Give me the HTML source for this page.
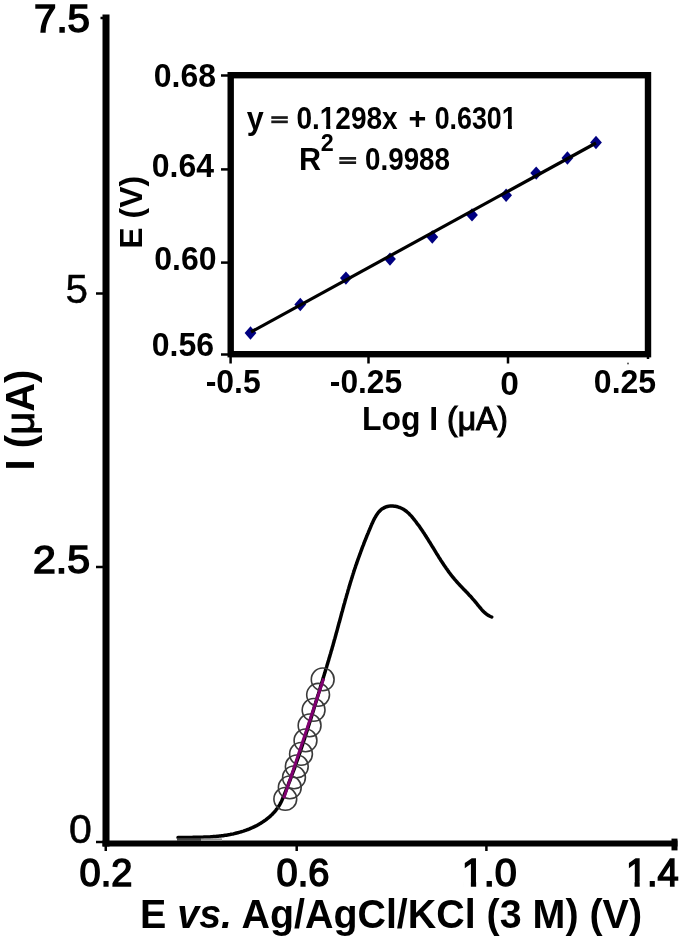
<!DOCTYPE html>
<html><head><meta charset="utf-8">
<style>
html,body{margin:0;padding:0;background:#fff;}
body{width:685px;height:941px;overflow:hidden;}
svg{display:block;filter:blur(0.5px);}
text{font-family:"Liberation Sans",sans-serif;fill:#000;}
.b{font-weight:bold;}
.m{stroke:#000;stroke-width:1.5px;}
</style></head><body>
<svg width="685" height="941" viewBox="0 0 685 941">
<rect width="685" height="941" fill="#fff"/>
<g stroke="#000" fill="none">
<line x1="106" y1="14.5" x2="106" y2="846.5" stroke-width="7"/>
<line x1="102.5" y1="843.5" x2="677.5" y2="843.5" stroke-width="6"/>
<g stroke-width="2.5">
<line x1="100.5" y1="18" x2="106" y2="18"/>
<line x1="96" y1="293.5" x2="106" y2="293.5"/>
<line x1="96" y1="567" x2="106" y2="567"/>
<line x1="96" y1="842" x2="106" y2="842"/>
<line x1="105.75" y1="843" x2="105.75" y2="851"/>
<line x1="296.7" y1="843" x2="296.7" y2="851"/>
<line x1="486.4" y1="843" x2="486.4" y2="851"/>
</g>
<rect x="671.5" y="838.6" width="6" height="11.8" fill="#000" stroke="none"/>
</g>
<g font-size="38" class="m">
<text x="90" y="32" text-anchor="end" textLength="56" lengthAdjust="spacingAndGlyphs">7.5</text>
<text x="88" y="303.2" text-anchor="end" font-size="40.5" style="stroke-width:0.4px">5</text>
<text x="90" y="573.2" text-anchor="end" textLength="57" lengthAdjust="spacingAndGlyphs">2.5</text>
<text x="91.9" y="842.8" text-anchor="end" font-size="41" style="stroke-width:0.6px">0</text>
<text x="106" y="886" text-anchor="middle">0.2</text>
<text x="303" y="886" text-anchor="middle">0.6</text>
<text x="489.3" y="886" text-anchor="middle" textLength="55" lengthAdjust="spacingAndGlyphs">1.0</text>
<text x="652.3" y="886" text-anchor="middle">1.4</text>
</g>
<text class="b" font-size="40" transform="translate(34.2,420) rotate(-90)" text-anchor="middle">I (<tspan style="font-weight:normal;stroke:#000;stroke-width:0.9px">&#956;</tspan>A)</text>
<text class="b" font-size="40" x="140" y="928.3" textLength="502" lengthAdjust="spacingAndGlyphs">E <tspan font-style="italic">vs.</tspan> Ag/AgCl/KCl (3 M) (V)</text>
<path d="M178.0,837.4 L179.2,837.4 L180.3,837.4 L181.5,837.4 L182.7,837.4 L183.9,837.4 L185.1,837.4 L186.2,837.4 L187.4,837.4 L188.6,837.4 L189.8,837.4 L191.0,837.4 L192.2,837.4 L193.3,837.3 L194.5,837.3 L195.7,837.3 L196.9,837.3 L198.1,837.3 L199.3,837.3 L200.5,837.2 L201.6,837.2 L202.8,837.2 L204.0,837.1 L205.2,837.1 L206.4,837.0 L207.6,837.0 L208.7,836.9 L209.9,836.9 L211.1,836.8 L212.3,836.7 L213.5,836.6 L214.6,836.5 L215.8,836.4 L217.0,836.3 L218.2,836.2 L219.3,836.1 L220.5,836.0 L221.7,835.8 L222.9,835.7 L224.0,835.5 L225.2,835.3 L226.3,835.2 L227.5,835.0 L228.7,834.8 L229.8,834.6 L231.0,834.3 L232.1,834.1 L233.3,833.9 L234.4,833.6 L235.6,833.3 L236.7,833.0 L237.8,832.8 L239.0,832.4 L240.1,832.1 L241.2,831.8 L242.4,831.4 L243.5,831.1 L244.6,830.7 L245.7,830.3 L246.8,829.9 L247.9,829.5 L249.0,829.1 L250.1,828.6 L251.2,828.1 L252.3,827.7 L253.4,827.2 L254.5,826.6 L255.5,826.1 L256.6,825.6 L257.7,825.0 L258.7,824.4 L259.8,823.8 L260.8,823.2 L261.8,822.6 L262.8,821.9 L263.8,821.2 L264.8,820.6 L265.8,819.9 L266.7,819.1 L267.6,818.4 L268.6,817.6 L269.5,816.9 L270.4,816.1 L271.2,815.3 L272.1,814.5 L272.9,813.6 L273.7,812.8 L274.5,811.9 L275.3,811.0 L276.0,810.1 L276.7,809.1 L277.4,808.2 L278.1,807.2 L278.7,806.3 L279.3,805.3 L279.9,804.3 L280.5,803.2 L281.0,802.2 L281.5,801.2 L282.0,800.1 L282.5,799.0 L282.9,797.9 L283.4,796.9 L283.8,795.8 L284.3,794.7 L284.7,793.6 L285.1,792.5 L285.6,791.5 L286.0,790.4 L286.4,789.3 L286.9,788.2 L287.3,787.1 L287.7,786.0 L288.2,784.9 L288.6,783.8 L289.0,782.7 L289.4,781.6 L289.9,780.6 L290.3,779.5 L290.7,778.4 L291.1,777.3 L291.5,776.2 L291.9,775.0 L292.3,773.9 L292.7,772.8 L293.1,771.7 L293.6,770.6 L294.0,769.5 L294.4,768.4 L294.8,767.3 L295.2,766.2 L295.5,765.1 L295.9,764.0 L296.3,762.8 L296.7,761.7 L297.1,760.6 L297.5,759.5 L297.9,758.4 L298.3,757.3 L298.7,756.1 L299.1,755.0 L299.4,753.9 L299.8,752.8 L300.2,751.7 L300.6,750.5 L301.0,749.4 L301.3,748.3 L301.7,747.2 L302.1,746.0 L302.5,744.9 L302.8,743.8 L303.2,742.7 L303.6,741.5 L303.9,740.4 L304.3,739.3 L304.7,738.2 L305.0,737.0 L305.4,735.9 L305.8,734.8 L306.1,733.6 L306.5,732.5 L306.8,731.4 L307.2,730.3 L307.6,729.1 L307.9,728.0 L308.3,726.9 L308.6,725.7 L309.0,724.6 L309.3,723.5 L309.7,722.3 L310.1,721.2 L310.4,720.1 L310.8,718.9 L311.1,717.8 L311.5,716.7 L311.8,715.5 L312.2,714.4 L312.5,713.3 L312.9,712.1 L313.2,711.0 L313.6,709.9 L313.9,708.7 L314.2,707.6 L314.6,706.5 L314.9,705.3 L315.3,704.2 L315.6,703.1 L316.0,701.9 L316.3,700.8 L316.7,699.7 L317.0,698.5 L317.3,697.4 L317.7,696.3 L318.0,695.1 L318.4,694.0 L318.7,692.9 L319.1,691.7 L319.4,690.6 L319.7,689.5 L320.1,688.4 L320.4,687.2 L320.8,686.1 L321.1,685.0 L321.4,683.8 L321.8,682.7 L322.1,681.6 L322.5,680.5 L322.8,679.3 L323.2,678.2 L323.5,677.1 L323.8,676.0 L324.2,674.9 L324.5,673.7 L324.9,672.6 L325.2,671.5 L325.5,670.4 L325.9,669.2 L326.2,668.1 L326.6,667.0 L326.9,665.9 L327.2,664.8 L327.6,663.6 L327.9,662.5 L328.2,661.4 L328.6,660.3 L328.9,659.1 L329.2,658.0 L329.6,656.9 L329.9,655.8 L330.2,654.6 L330.6,653.5 L330.9,652.4 L331.2,651.2 L331.6,650.1 L331.9,649.0 L332.2,647.8 L332.5,646.7 L332.9,645.6 L333.2,644.4 L333.5,643.3 L333.8,642.2 L334.1,641.0 L334.4,639.9 L334.8,638.7 L335.1,637.6 L335.4,636.5 L335.7,635.3 L336.0,634.2 L336.3,633.0 L336.7,631.9 L337.0,630.7 L337.3,629.6 L337.6,628.4 L337.9,627.3 L338.2,626.1 L338.5,625.0 L338.8,623.9 L339.1,622.7 L339.5,621.6 L339.8,620.4 L340.1,619.3 L340.4,618.1 L340.7,617.0 L341.0,615.8 L341.3,614.7 L341.6,613.5 L341.9,612.4 L342.3,611.2 L342.6,610.1 L342.9,608.9 L343.2,607.8 L343.5,606.7 L343.8,605.5 L344.1,604.4 L344.5,603.2 L344.8,602.1 L345.1,600.9 L345.4,599.8 L345.7,598.7 L346.1,597.5 L346.4,596.4 L346.7,595.3 L347.0,594.1 L347.4,593.0 L347.7,591.9 L348.0,590.7 L348.3,589.6 L348.7,588.5 L349.0,587.3 L349.3,586.2 L349.7,585.1 L350.0,584.0 L350.3,582.8 L350.7,581.7 L351.0,580.6 L351.4,579.5 L351.7,578.4 L352.1,577.3 L352.4,576.1 L352.8,575.0 L353.1,573.9 L353.5,572.8 L353.8,571.7 L354.2,570.6 L354.5,569.5 L354.9,568.4 L355.3,567.3 L355.6,566.2 L356.0,565.1 L356.4,564.0 L356.8,563.0 L357.1,561.9 L357.5,560.8 L357.9,559.7 L358.3,558.6 L358.7,557.5 L359.1,556.4 L359.5,555.3 L359.9,554.2 L360.3,553.1 L360.7,552.0 L361.1,550.9 L361.5,549.8 L361.9,548.7 L362.3,547.6 L362.7,546.5 L363.2,545.4 L363.6,544.3 L364.0,543.2 L364.4,542.1 L364.9,541.0 L365.3,539.9 L365.8,538.8 L366.2,537.7 L366.7,536.5 L367.1,535.4 L367.6,534.3 L368.1,533.1 L368.5,532.0 L369.0,530.8 L369.5,529.7 L370.0,528.5 L370.5,527.4 L370.9,526.2 L371.4,525.1 L371.9,523.9 L372.5,522.7 L373.0,521.6 L373.5,520.5 L374.1,519.3 L374.7,518.2 L375.3,517.2 L375.9,516.1 L376.5,515.1 L377.1,514.2 L377.8,513.2 L378.5,512.3 L379.3,511.5 L380.0,510.7 L380.8,509.9 L381.7,509.2 L382.5,508.6 L383.5,508.1 L384.4,507.6 L385.4,507.1 L386.4,506.8 L387.5,506.5 L388.5,506.3 L389.6,506.1 L390.7,506.1 L391.9,506.0 L393.0,506.1 L394.2,506.2 L395.3,506.3 L396.4,506.5 L397.6,506.8 L398.7,507.2 L399.8,507.5 L400.9,508.0 L401.9,508.5 L402.9,509.0 L403.9,509.6 L404.9,510.3 L405.9,511.0 L406.8,511.7 L407.7,512.5 L408.6,513.3 L409.4,514.1 L410.2,515.0 L411.1,515.8 L411.9,516.7 L412.6,517.7 L413.4,518.6 L414.2,519.6 L414.9,520.5 L415.7,521.5 L416.4,522.4 L417.1,523.4 L417.8,524.4 L418.6,525.3 L419.3,526.3 L420.0,527.3 L420.6,528.3 L421.3,529.3 L422.0,530.3 L422.7,531.3 L423.3,532.2 L424.0,533.2 L424.6,534.2 L425.3,535.2 L425.9,536.3 L426.6,537.3 L427.2,538.3 L427.9,539.3 L428.5,540.3 L429.1,541.3 L429.7,542.3 L430.4,543.3 L431.0,544.3 L431.6,545.3 L432.2,546.3 L432.8,547.3 L433.5,548.4 L434.1,549.4 L434.7,550.4 L435.3,551.4 L435.9,552.4 L436.5,553.4 L437.2,554.4 L437.8,555.4 L438.4,556.4 L439.0,557.4 L439.7,558.4 L440.3,559.4 L440.9,560.4 L441.6,561.4 L442.2,562.3 L442.8,563.3 L443.5,564.3 L444.1,565.3 L444.8,566.2 L445.5,567.2 L446.1,568.2 L446.8,569.1 L447.5,570.1 L448.2,571.0 L448.8,572.0 L449.5,572.9 L450.2,573.8 L451.0,574.8 L451.7,575.7 L452.4,576.6 L453.1,577.5 L453.9,578.4 L454.6,579.3 L455.4,580.2 L456.2,581.1 L457.0,582.0 L457.7,582.8 L458.5,583.7 L459.3,584.6 L460.1,585.4 L461.0,586.3 L461.8,587.2 L462.6,588.0 L463.4,588.9 L464.2,589.7 L465.0,590.6 L465.9,591.4 L466.7,592.3 L467.5,593.1 L468.3,594.0 L469.1,594.9 L469.9,595.7 L470.8,596.6 L471.6,597.5 L472.3,598.4 L473.1,599.3 L473.9,600.2 L474.7,601.1 L475.4,602.0 L476.2,602.9 L476.9,603.8 L477.7,604.8 L478.4,605.7 L479.2,606.6 L479.9,607.5 L480.7,608.4 L481.4,609.3 L482.2,610.2 L483.0,611.0 L483.8,611.9 L484.7,612.6 L485.6,613.4 L486.5,614.1 L487.4,614.8 L488.4,615.4 L489.5,616.0 L490.5,616.5 L491.7,617.0" fill="none" stroke="#000" stroke-width="3.5" stroke-linejoin="round" stroke-linecap="round"/>
<rect x="177" y="838.2" width="24" height="2.8" fill="#444"/>
<rect x="201" y="838.4" width="21" height="2.6" fill="#999"/>
<g fill="none" stroke="#3a3a3a" stroke-width="1.6">
<circle cx="285.3" cy="798.9" r="11.4"/>
<circle cx="289.8" cy="787.4" r="11.4"/>
<circle cx="294.0" cy="777.4" r="11.4"/>
<circle cx="296.8" cy="766.4" r="11.4"/>
<circle cx="301.0" cy="753.9" r="11.4"/>
<circle cx="305.5" cy="740.4" r="11.4"/>
<circle cx="309.6" cy="725.4" r="11.4"/>
<circle cx="313.6" cy="709.9" r="11.4"/>
<circle cx="318.1" cy="694.8" r="11.4"/>
<circle cx="322.7" cy="679.4" r="11.4"/>
</g>
<line x1="283.8" y1="798.4" x2="323.7" y2="678.5" stroke="#800070" stroke-width="3"/>
<rect x="230.7" y="75.2" width="417.3" height="279" fill="#fff" stroke="#000" stroke-width="6.4"/>
<g stroke="#000" stroke-width="2.5">
<line x1="221" y1="75.5" x2="230" y2="75.5"/>
<line x1="221" y1="169.4" x2="230" y2="169.4"/>
<line x1="221" y1="262.6" x2="230" y2="262.6"/>
<line x1="221" y1="354.5" x2="230" y2="354.5"/>
<line x1="230.6" y1="355" x2="230.6" y2="363.5"/>
<line x1="368.5" y1="355" x2="368.5" y2="363.5"/>
<line x1="508" y1="355" x2="508" y2="363.5"/>
<line x1="648" y1="355" x2="648" y2="359"/>
</g>
<circle cx="628" cy="363.4" r="1" fill="#555"/>
<g class="b" font-size="33.5">
<text x="216" y="87" text-anchor="end" textLength="62.3" lengthAdjust="spacingAndGlyphs">0.68</text>
<text x="214" y="176.5" text-anchor="end" textLength="62.3" lengthAdjust="spacingAndGlyphs">0.64</text>
<text x="216.5" y="270.3" text-anchor="end" textLength="62.3" lengthAdjust="spacingAndGlyphs">0.60</text>
<text x="214" y="355.5" text-anchor="end" textLength="62.3" lengthAdjust="spacingAndGlyphs">0.56</text>
<text x="233.2" y="392.8" text-anchor="middle" textLength="55.1" lengthAdjust="spacingAndGlyphs">-0.5</text>
<text x="366" y="392.5" text-anchor="middle" textLength="72.3" lengthAdjust="spacingAndGlyphs">-0.25</text>
<text x="509.5" y="394.5" text-anchor="middle">0</text>
<text x="625" y="392.8" text-anchor="middle" textLength="62.3" lengthAdjust="spacingAndGlyphs">0.25</text>
</g>
<text class="b" font-size="32" transform="translate(141.9,212.2) rotate(-90)" text-anchor="middle">E (V)</text>
<text class="b" font-size="33" x="435" y="429.7" text-anchor="middle" textLength="146" lengthAdjust="spacingAndGlyphs">Log I <tspan style="font-weight:normal;stroke:#000;stroke-width:1.1px">(&#956;A)</tspan></text>
<g class="b" font-size="30.5">
<text x="246.7" y="128.6">y</text>
<text x="296.4" y="128.6" textLength="101.3" lengthAdjust="spacingAndGlyphs">0.1298x</text>
<text x="408.4" y="128.6">+</text>
<text x="434.7" y="128.6" textLength="82" lengthAdjust="spacingAndGlyphs">0.6301</text>
<text x="299" y="170.3">R</text>
<text x="320.8" y="151" font-size="23" textLength="13" lengthAdjust="spacingAndGlyphs">2</text>
<text x="365" y="170.3" textLength="85" lengthAdjust="spacingAndGlyphs">0.9988</text>
</g>
<g fill="#1a1a1a"><rect x="271.3" y="116.2" width="16.5" height="2.7"/><rect x="271.3" y="120.5" width="16.5" height="2.7"/><rect x="339.3" y="157" width="16.8" height="2.7"/><rect x="339.3" y="161.3" width="16.8" height="2.7"/></g>
<path d="M250.5,326.3 l5.9,6.7 l-5.9,6.7 l-5.9,-6.7 z" fill="#000080"/>
<path d="M300.3,297.8 l5.9,6.7 l-5.9,6.7 l-5.9,-6.7 z" fill="#000080"/>
<path d="M345.9,271.4 l5.9,6.7 l-5.9,6.7 l-5.9,-6.7 z" fill="#000080"/>
<path d="M390.0,252.4 l5.9,6.7 l-5.9,6.7 l-5.9,-6.7 z" fill="#000080"/>
<path d="M432.3,230.3 l5.9,6.7 l-5.9,6.7 l-5.9,-6.7 z" fill="#000080"/>
<path d="M472.0,208.2 l5.9,6.7 l-5.9,6.7 l-5.9,-6.7 z" fill="#000080"/>
<path d="M506.1,188.6 l5.9,6.7 l-5.9,6.7 l-5.9,-6.7 z" fill="#000080"/>
<path d="M536.2,166.4 l5.9,6.7 l-5.9,6.7 l-5.9,-6.7 z" fill="#000080"/>
<path d="M567.4,151.3 l5.9,6.7 l-5.9,6.7 l-5.9,-6.7 z" fill="#000080"/>
<path d="M596.0,135.8 l5.9,6.7 l-5.9,6.7 l-5.9,-6.7 z" fill="#000080"/>
<line x1="251" y1="332" x2="596" y2="143" stroke="#000" stroke-width="3.2"/>
<rect x="463.31" y="881.56" width="7.54" height="5.94" fill="#fff"/>
<rect x="476.15" y="881.56" width="7.23" height="5.94" fill="#fff"/>
<rect x="627.28" y="881.56" width="7.26" height="5.94" fill="#fff"/>
<rect x="639.70" y="881.56" width="6.97" height="5.94" fill="#fff"/>
<rect x="320.78" y="124.64" width="5.38" height="4.71" fill="#fff"/>
<rect x="330.31" y="124.64" width="5.03" height="4.71" fill="#fff"/>
<rect x="502.71" y="124.64" width="5.17" height="4.71" fill="#fff"/>
<rect x="511.87" y="124.64" width="4.83" height="4.71" fill="#fff"/>
</svg>
</body></html>
